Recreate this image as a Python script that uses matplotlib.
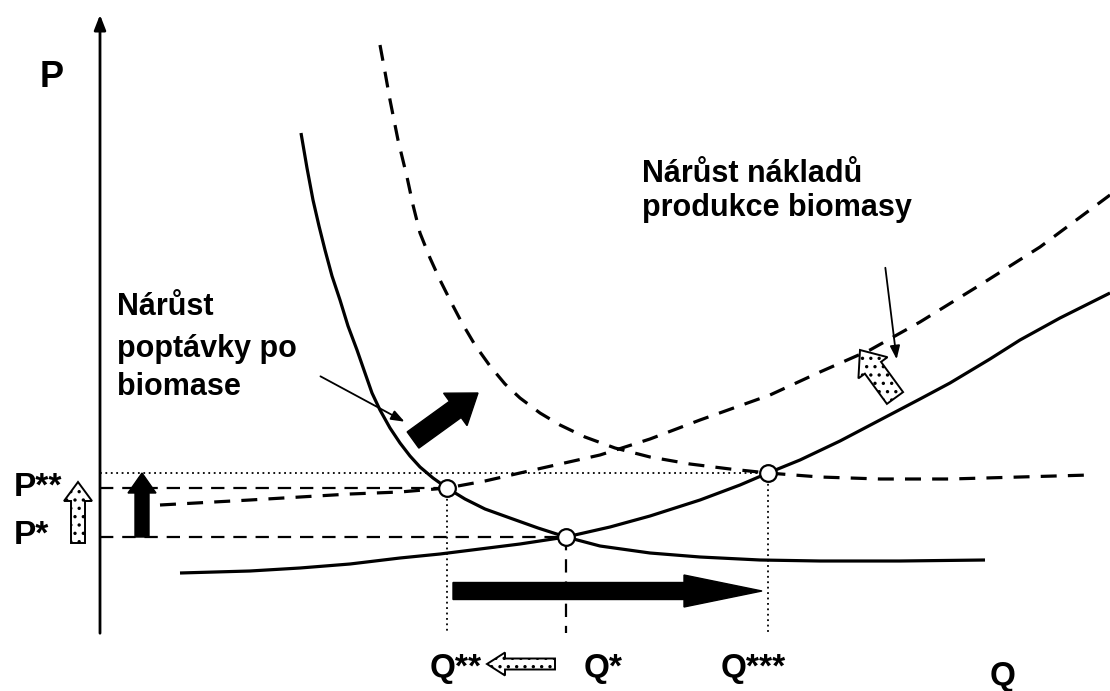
import numpy as np
import matplotlib
matplotlib.use("Agg")
from matplotlib import pyplot as plt
from matplotlib.patches import FancyArrow

plt.rcParams['font.family'] = ['Liberation Sans', 'DejaVu Sans']
plt.rcParams['hatch.linewidth'] = 1.2

# ---- curves (picture coordinates, px) ----
demand_x = [301, 307, 313, 319, 325, 332, 340, 348, 357, 365, 372, 380, 390, 400, 410, 420,
            433, 447, 465, 485, 510, 538, 566, 600, 650, 700, 760, 820, 900, 985]
demand_y = [133, 168, 200, 226, 250, 276, 300, 326, 350, 373, 393, 410, 428, 443, 456, 467,
            478, 488, 499, 509, 518, 528, 537, 546, 553, 557, 560, 561, 561, 560]

demand2_x = [380, 385, 390, 398, 407, 413, 420, 430, 440, 451, 462, 475, 490, 505, 520, 540,
             560, 585, 615, 650, 690, 730, 768, 820, 880, 950, 1020, 1090]
demand2_y = [45, 72, 100, 140, 177, 205, 233, 258, 280, 302, 323, 345, 366, 384, 398, 413,
             425, 437, 448, 457, 464, 469, 473, 477, 479, 479, 477, 475]

supply_x = [180, 250, 300, 350, 400, 440, 480, 520, 566, 610, 650, 700, 740, 768, 800, 840,
            880, 920, 950, 990, 1020, 1060, 1110]
supply_y = [573, 571, 568, 564, 558, 554, 549, 544, 537, 527, 516, 500, 485, 473, 460, 441,
            420, 399, 383, 359, 340, 318, 293]

supply2_x = [160, 250, 350, 400, 447, 485, 520, 560, 600, 650, 700, 770, 820, 870, 920, 980,
             1040, 1110]
supply2_y = [505, 500, 494, 492, 488, 481, 473, 464, 455, 439, 420, 395, 372, 350, 322, 285,
             247, 195]

# equilibria
eq_x = [447, 566, 768]
eq_y = [488, 537, 473]
p_labels = ["P**", "P*"]
q_labels = ["Q**", "Q*", "Q***"]

fig = plt.figure(figsize=(11.1, 6.91), dpi=100)
ax = fig.add_axes([0, 0, 1, 1])
ax.set_xlim(0, 1110)
ax.set_ylim(691, 0)
ax.axis('off')

# axes with arrows
ax.annotate('', xy=(100, 12), xytext=(100, 636),
            arrowprops=dict(arrowstyle='-|>,head_width=0.35,head_length=0.9', lw=2, color='black'))
ax.annotate('', xy=(1112, 633), xytext=(98, 633),
            arrowprops=dict(arrowstyle='-|>,head_width=0.35,head_length=0.9', lw=2, color='black'))

# guide lines
ax.plot([100, eq_x[2]], [eq_y[2], eq_y[2]], color='black', lw=1.3, ls=(0, (1, 2)))
ax.plot([100, eq_x[0]], [eq_y[0], eq_y[0]], color='black', lw=1.6, ls=(0, (6, 4)))
ax.plot([100, eq_x[1]], [eq_y[1], eq_y[1]], color='black', lw=1.6, ls=(0, (6, 4)))
ax.plot([eq_x[0], eq_x[0]], [eq_y[0], 633], color='black', lw=1.3, ls=(0, (1, 2)))
ax.plot([eq_x[1], eq_x[1]], [eq_y[1], 633], color='black', lw=1.6, ls=(0, (6, 4)))
ax.plot([eq_x[2], eq_x[2]], [eq_y[2], 633], color='black', lw=1.3, ls=(0, (1, 2)))

# curves
ax.plot(demand_x, demand_y, color='black', lw=2.3, solid_capstyle='butt')
ax.plot(supply_x, supply_y, color='black', lw=2.3, solid_capstyle='butt')
ax.plot(demand2_x, demand2_y, color='black', lw=2.3, ls=(0, (5, 3.5)))
ax.plot(supply2_x, supply2_y, color='black', lw=2.3, ls=(0, (5, 3.5)))

ax.plot(eq_x, eq_y, 'o', ms=12, mfc='white', mec='black', mew=1.6, zorder=5)

# block arrows
def block(x, y, dx, dy, w, hw, hl, fill=True):
    if fill:
        a = FancyArrow(x, y, dx, dy, width=w, head_width=hw, head_length=hl,
                       length_includes_head=True, fc='black', ec='black', lw=1)
    else:
        a = FancyArrow(x, y, dx, dy, width=w, head_width=hw, head_length=hl,
                       length_includes_head=True, fc='white', ec='black', lw=1.4, hatch='..')
    ax.add_patch(a)

block(142, 537, 0, -64, 14, 28, 20)                 # black up
block(78, 543, 0, -61, 14, 28, 19, fill=False)      # dotted up
block(453, 591, 309, 0, 17, 32, 78)                 # big right
block(555, 664, -68, 0, 11, 23, 18, fill=False)     # dotted left
block(413, 440, 65, -47, 20, 40, 28)                # black diagonal
block(895, 398, -35, -48, 20, 36, 22, fill=False)   # dotted diagonal

# thin pointer arrows
ax.annotate('', xy=(407, 423), xytext=(318, 375),
            arrowprops=dict(arrowstyle='-|>,head_width=0.3,head_length=0.8', lw=1.3, color='black'))
ax.annotate('', xy=(897, 362), xytext=(885, 265),
            arrowprops=dict(arrowstyle='-|>,head_width=0.3,head_length=0.8', lw=1.3, color='black'))

# labels
ax.text(52, 77, "P", fontsize=26, fontweight='bold', ha='center', va='center')
ax.text(14, 487, p_labels[0], fontsize=24, fontweight='bold', ha='left', va='center')
ax.text(14, 535, p_labels[1], fontsize=24, fontweight='bold', ha='left', va='center')
ax.text(456, 668, q_labels[0], fontsize=24, fontweight='bold', ha='center', va='center')
ax.text(603, 668, q_labels[1], fontsize=24, fontweight='bold', ha='center', va='center')
ax.text(753, 668, q_labels[2], fontsize=24, fontweight='bold', ha='center', va='center')
ax.text(1003, 677, "Q", fontsize=24, fontweight='bold', ha='center', va='center')

ax.text(642, 182, "Nárůst nákladů", fontsize=22, fontweight='bold', ha='left', va='baseline')
ax.text(642, 216, "produkce biomasy", fontsize=22, fontweight='bold', ha='left', va='baseline')
ax.text(117, 315, "Nárůst", fontsize=22, fontweight='bold', ha='left', va='baseline')
ax.text(117, 357, "poptávky po", fontsize=22, fontweight='bold', ha='left', va='baseline')
ax.text(117, 395, "biomase", fontsize=22, fontweight='bold', ha='left', va='baseline')

fig.savefig("out.png", dpi=100)
